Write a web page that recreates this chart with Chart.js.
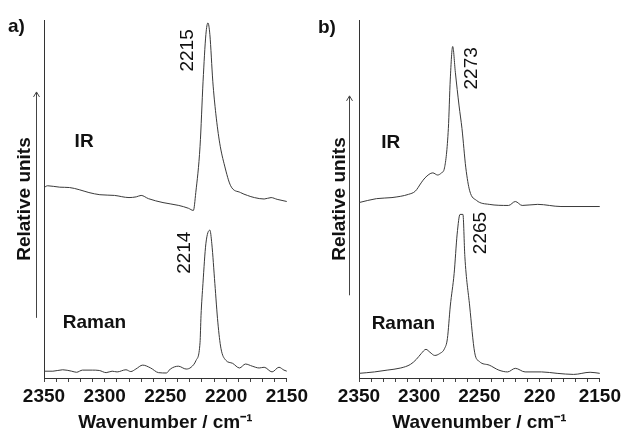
<!DOCTYPE html>
<html><head><meta charset="utf-8">
<script src="https://cdn.jsdelivr.net/npm/chart.js@4/dist/chart.umd.min.js"></script>
<style>
html,body{margin:0;padding:0;background:#fff}
#wrap{width:626px;height:432px;display:flex}
canvas{display:block}
</style>
</head><body>
<div id="wrap"><canvas id="ca" width="313" height="432"></canvas><canvas id="cb" width="313" height="432"></canvas></div>
<script>
// ---- data ----
const xTickLabelsA = ['2350','2300','2250','2200','2150'];
const xTickLabelsB = ['2350','2300','2250','220','2150'];
const panelLetters = ['a)','b)'];
const seriesNames = ['IR','Raman'];
const peakLabelsA = ['2215','2214'];
const peakLabelsB = ['2273','2265'];

const wnIrA = [2350,2347,2337,2329,2321,2313,2304,2292,2280,2274,2270,2264,2252,2239,2231,2227,2225,2221.5,2219,2216.7,2215,2213.4,2211,2208.5,2205.3,2201.2,2196.3,2188.2,2182.5,2176.8,2168.7,2163,2158,2150];
const irA   = [53.2,53.7,53.3,53.2,52.6,51.8,51.2,51.0,50.4,50.6,51.0,50.1,49.0,48.2,47.4,46.8,51.8,64.7,82.9,95.9,99.2,95.9,82.9,73.8,65.6,59.2,53.7,51.8,51.0,50.4,50.0,50.4,49.9,49.3];

const wnRamA = [2350,2342.7,2334.6,2327.2,2323.2,2318.3,2310.2,2304.5,2298.8,2293.9,2289.8,2282.5,2278.5,2274.4,2268.7,2262.2,2255.7,2249.2,2246,2239.4,2232.9,2228.9,2224.8,2221.5,2220.7,2219.1,2216.7,2213.4,2211.8,2209.3,2206.8,2204.3,2200.4,2194.7,2189,2184.1,2178.5,2172.8,2168.7,2162.2,2156.5,2152.4,2150];
const ramA   = [1.9,1.9,2.3,1.9,1.6,2.2,2.2,2.1,1.5,1.9,1.7,2.3,1.8,2.5,3.6,2.8,1.5,1.4,2.5,3.3,2.5,3.0,4.9,9.9,17.4,26.4,37.5,41.3,37.5,26.4,15.4,8.3,5.0,4.1,2.8,3.9,3.3,2.8,3.0,1.7,3.0,2.2,1.9];

const wnIrB = [2350,2335.5,2322.6,2308.9,2303.2,2298.4,2295.2,2288.7,2284.7,2281.5,2279,2275.8,2274.2,2272.2,2270,2266.9,2264.5,2261.3,2258.1,2252.4,2241.9,2225.8,2220.2,2214.5,2201.6,2182.3,2150];
const irB   = [49.0,50.1,50.4,51.3,52.2,54.5,55.9,57.3,56.7,57.3,58.7,69.7,83.5,92.6,85.4,76.0,69.7,58.7,52.3,49.6,48.5,48.2,49.3,48.2,48.5,47.9,47.9];

const wnRamB = [2350,2337.1,2326.6,2315.3,2307.3,2302.4,2298.4,2294.4,2291.1,2287.1,2283.1,2279,2276.6,2274.2,2271,2268.5,2266.1,2263.7,2262.1,2258.1,2254,2250,2241.9,2233.9,2226.6,2220.2,2212.1,2198.4,2185.5,2171.8,2158.1,2150];
const ramB   = [1.3,1.7,2.2,2.8,3.8,5.2,6.8,8.0,7.2,6.3,6.8,8.2,11.0,20.1,29.2,40.2,45.7,45.7,33.9,20.1,7.2,4.6,3.6,2.2,1.7,2.7,1.7,1.7,1.3,1.0,1.6,1.3];

// ---- drawing ----
const FONT = "'Liberation Sans', Arial, Helvetica, sans-serif";
const INK = '#111';
const LINE = '#3a3a3a';

const annot = {
  id: 'annot',
  afterDraw(chart, args, o) {
    const {ctx, chartArea, scales: {x, y}} = chart;
    ctx.save();
    // arrow beside y axis
    const ax = Math.round(chartArea.left - o.arrowGap) + 0.5;
    const y0 = y.getPixelForValue(o.arrow[0]);
    const y1 = y.getPixelForValue(o.arrow[1]);
    ctx.strokeStyle = '#444'; ctx.lineWidth = 1;
    ctx.beginPath(); ctx.moveTo(ax, y0); ctx.lineTo(ax, y1); ctx.stroke();
    ctx.beginPath(); ctx.moveTo(ax - 3, y1 + 5); ctx.lineTo(ax, y1); ctx.lineTo(ax + 3, y1 + 5); ctx.stroke();
    // panel letter
    ctx.fillStyle = INK;
    ctx.font = 'bold 19px ' + FONT;
    ctx.textBaseline = 'middle'; ctx.textAlign = 'left';
    ctx.fillText(o.letter, o.letterPos[0], o.letterPos[1]);
    // series names
    o.names.forEach(n => ctx.fillText(n.text, x.getPixelForValue(n.w), y.getPixelForValue(n.v)));
    // peak labels (rotated)
    ctx.font = '19px ' + FONT;
    ctx.textAlign = 'center';
    o.peaks.forEach(p => {
      ctx.save();
      ctx.translate(x.getPixelForValue(p.w), y.getPixelForValue(p.v));
      ctx.rotate(-Math.PI / 2);
      ctx.fillText(p.text, 0, 0);
      ctx.restore();
    });
    ctx.restore();
  }
};

function makeChart(id, irW, irV, ramW, ramV, tickLabels, annOpts, pad) {
  const ds = (w, v) => ({
    data: w.map((xv, i) => ({x: xv, y: v[i]})),
    borderColor: LINE, borderWidth: 1, pointRadius: 0,
    cubicInterpolationMode: 'monotone', fill: false
  });
  return new Chart(document.getElementById(id), {
    type: 'line',
    data: {datasets: [ds(irW, irV), ds(ramW, ramV)]},
    options: {
      responsive: false, animation: false, devicePixelRatio: 1,
      layout: {padding: pad},
      plugins: {legend: {display: false}, tooltip: {enabled: false}, annot: annOpts},
      scales: {
        x: {
          type: 'linear', reverse: true, min: 2150, max: 2350, position: 'bottom',
          grid: {drawOnChartArea: false, drawTicks: true, tickLength: 4, color: '#444'},
          border: {display: true, color: '#333', width: 1},
          ticks: {
            stepSize: 10, autoSkip: false, maxRotation: 0, minRotation: 0, padding: 5,
            color: INK, font: {family: FONT, size: 19, weight: 'bold', lineHeight: 1.0},
            callback: v => (Math.round(v) % 50 === 0) ? tickLabels[Math.round((2350 - v) / 50)] : ''
          },
          title: {display: true, text: 'Wavenumber / cm\u207B\u00B9', color: INK,
            font: {family: FONT, size: 19, weight: 'bold', lineHeight: 1.0}, padding: {top: 2, bottom: 0}}
        },
        y: {
          min: 0, max: 100,
          grid: {display: false, drawTicks: false},
          border: {display: true, color: '#333', width: 1},
          ticks: {display: false},
          title: {display: true, text: 'Relative units', color: INK,
            font: {family: FONT, size: 19, weight: 'bold', lineHeight: 1.2}, padding: {top: 0, bottom: 7.6}}
        }
      }
    },
    plugins: [annot]
  });
}

makeChart('ca', wnIrA, irA, wnRamA, ramA, xTickLabelsA, {
  arrowGap: 8, arrow: [16.8, 79.9],
  letter: panelLetters[0], letterPos: [8, 27],
  names: [{text: seriesNames[0], w: 2324.8, v: 66.1}, {text: seriesNames[1], w: 2334.6, v: 15.4}],
  peaks: [{text: peakLabelsA[0], w: 2231.7, v: 91.5}, {text: peakLabelsA[1], w: 2234.1, v: 35.0}]
}, {left: 13.6, right: 23, top: 20, bottom: 0});

makeChart('cb', wnIrB, irB, wnRamB, ramB, xTickLabelsB, {
  arrowGap: 10, arrow: [23.1, 78.8],
  letter: panelLetters[1], letterPos: [5, 27.5],
  names: [{text: seriesNames[0], w: 2331.5, v: 65.6}, {text: seriesNames[1], w: 2339.5, v: 15.2}],
  peaks: [{text: peakLabelsB[0], w: 2256.0, v: 86.5}, {text: peakLabelsB[1], w: 2248.8, v: 40.5}]
}, {left: 15.6, right: 19, top: 20, bottom: 0});
</script>
</body></html>
